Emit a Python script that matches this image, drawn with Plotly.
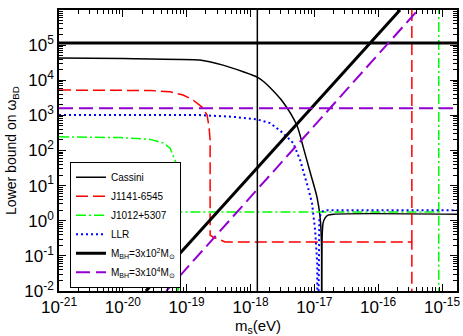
import plotly.graph_objects as go

# values (x in eV, y = lower bound on omega_BD)
cassini_x = [1e-21, 1e-20, 2.7e-20, 1.6e-19, 3.7e-19, 7.7e-19, 1.27e-18, 1.6e-18, 2.0e-18, 3.2e-18,
             5.3e-18, 6.7e-18, 8.6e-18, 1.1e-17, 1.23e-17, 1.29e-17, 1.30e-17, None,
             1.31e-17, 1.37e-17, 1.47e-17, 1.64e-17, 2.0e-17, 1.8e-15]
cassini_y = [4.3e4, 4.15e4, 4.0e4, 3.76e4, 2.7e4, 1.75e4, 1.23e4, 9.2e3, 6.3e3, 2.44e3,
             530, 125, 24, 4.7, 1.27, 0.28, 1e-3, None,
             1e-3, 0.85, 1.19, 1.44, 1.54, 1.54]

j1141_x = [1e-21, 2.7e-20, 5.5e-20, 8.8e-20, 1.26e-19, 1.74e-19, 2.09e-19, 2.24e-19, 2.33e-19,
           2.33e-19, 2.6e-19, 4.0e-19, 3.37e-16, 3.37e-16, None, 3.37e-16, 3.37e-16]
j1141_y = [5.26e3, 5.1e3, 4.7e3, 3.8e3, 2.73e3, 1.72e3, 1.02e3, 465, 198,
           0.39, 0.34, 0.25, 0.25, 1e-3, None, 0.25, 1e7]

j1012_x = [1e-21, 9e-21, 2.7e-20, 4.3e-20, 5.5e-20, 6.35e-20, 6.8e-20, 7.2e-20, 7.3e-20, None,
           7.4e-20, 7.45e-20, 8.9e-16, 8.9e-16, None, 8.9e-16, 8.9e-16]
j1012_y = [245, 233, 207, 163, 117, 65, 44, 20, 1e-3, None,
           1e-3, 1.77, 1.77, 1e-3, None, 1.77, 1e7]

llr_x = [1e-21, 1.6e-19, 5.3e-19, 1.27e-18, 2.03e-18, 3.24e-18, 4.66e-18, 6.0e-18, 8.0e-18,
         9.2e-18, 1.03e-17, 1.11e-17, 1.12e-17, None,
         1.15e-17, 1.17e-17, 1.2e-17, 1.3e-17, 1.5e-17, 1.8e-15]
llr_y = [1.02e3, 1.02e3, 912, 769, 603, 313, 163, 53, 8.5,
         3.16, 0.54, 0.062, 1e-3, None,
         1e-3, 0.3, 1.2, 1.8, 2.0, 2.0]

bh2_x = [1e-21, 1.8e-15, None, 2.3e-20, 2.2e-16]
bh2_y = [1.15e5, 1.15e5, None, 1e-2, 1e6]
bh2_vline_x = [1.28e-18, 1.28e-18]
bh2_vline_y = [1e-3, 1e7]

bh4_x = [1e-21, 1.8e-15, None, 4.8e-20, 4.2e-16]
bh4_y = [1.6e3, 1.6e3, None, 1e-2, 1e6]

x_decades = [-21, -20, -19, -18, -17, -16, -15]
y_decades = [-2, -1, 0, 1, 2, 3, 4, 5, 6]

FONT = "Arial, Liberation Sans, sans-serif"

fig = go.Figure()
fig.add_trace(go.Scatter(x=cassini_x, y=cassini_y, mode="lines", name="Cassini",
                         line=dict(color="black", width=1.5, shape="spline", smoothing=0.8)))
fig.add_trace(go.Scatter(x=j1141_x, y=j1141_y, mode="lines", name="J1141-6545",
                         line=dict(color="#ff0000", width=1.5, dash="12px,5px")))
fig.add_trace(go.Scatter(x=j1012_x, y=j1012_y, mode="lines", name="J1012+5307",
                         line=dict(color="#00ff00", width=1.5, dash="10px,3px,2px,3px")))
fig.add_trace(go.Scatter(x=llr_x, y=llr_y, mode="lines", name="LLR",
                         line=dict(color="#0000ff", width=2, dash="2px,3px")))
fig.add_trace(go.Scatter(x=bh2_x, y=bh2_y, mode="lines",
                         name="M<sub>BH</sub>=3x10<sup>2</sup>M<sub>⊙</sub>",
                         line=dict(color="black", width=3)))
fig.add_trace(go.Scatter(x=bh4_x, y=bh4_y, mode="lines",
                         name="M<sub>BH</sub>=3x10<sup>4</sup>M<sub>⊙</sub>",
                         line=dict(color="#9400d3", width=2, dash="14px,6px")))
fig.add_trace(go.Scatter(x=bh2_vline_x, y=bh2_vline_y, mode="lines", showlegend=False,
                         line=dict(color="black", width=1.5)))

x_minor = [m * 10.0 ** d for d in x_decades for m in range(2, 10)]
y_minor = [m * 10.0 ** d for d in y_decades for m in range(2, 10)]

axis_common = dict(type="log", showgrid=False, zeroline=False, showline=True,
                   linecolor="black", linewidth=1.5, mirror="ticks", ticks="inside",
                   ticklen=7, tickwidth=1, tickcolor="black", automargin=False,
                   tickfont=dict(family=FONT, size=17, color="black"))

fig.update_xaxes(**axis_common, range=[-21, -14.765],
                 tickvals=[10.0 ** d for d in x_decades],
                 ticktext=[f"10<sup>{d}</sup>" for d in x_decades],
                 minor=dict(tickmode="array", tickvals=x_minor, ticks="inside",
                            ticklen=4, tickcolor="black", showgrid=False),
                 title=dict(text="m<sub>s</sub>(eV)", font=dict(family=FONT, size=15, color="black"),
                            standoff=4))
fig.update_yaxes(**axis_common, range=[-2, 6],
                 tickvals=[10.0 ** d for d in y_decades],
                 ticktext=[f"10<sup>{d}</sup>" for d in y_decades],
                 minor=dict(tickmode="array", tickvals=y_minor, ticks="inside",
                            ticklen=4, tickcolor="black", showgrid=False),
                 title=dict(text="Lower bound on ω<sub>BD</sub>",
                            font=dict(family=FONT, size=14, color="black"), standoff=4))

fig.update_layout(
    template="none",
    width=463, height=336,
    margin=dict(l=59, r=6, t=10, b=45),
    paper_bgcolor="white", plot_bgcolor="white",
    font=dict(family=FONT, color="black"),
    legend=dict(x=0.0276, y=0.46, xanchor="left", yanchor="top",
                bgcolor="white", bordercolor="black", borderwidth=1,
                font=dict(family=FONT, size=10, color="black"),
                itemwidth=30, tracegroupgap=0),
)

fig.write_html("out.html", config={"displayModeBar": False},
               post_script="document.body.style.margin='0';"
                           "document.documentElement.style.overflow='hidden';")
